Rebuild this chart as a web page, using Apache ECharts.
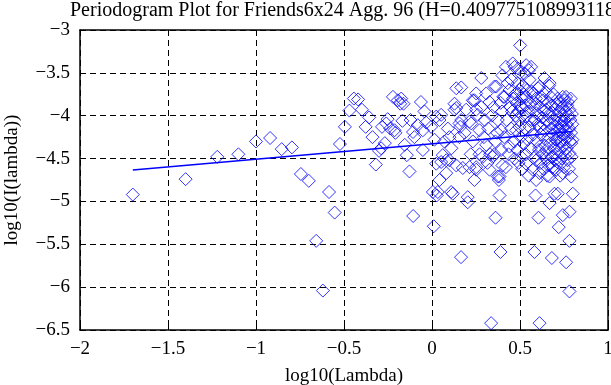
<!DOCTYPE html>
<html>
<head>
<meta charset="utf-8">
<script src="https://cdn.jsdelivr.net/npm/echarts@6/dist/echarts.min.js"></script>
<style>
html,body{margin:0;padding:0;background:#fff;}
#chart{width:611px;height:385px;}
</style>
</head>
<body>
<div id="chart"></div>
<script>
var chartTitle = 'Periodogram Plot for Friends6x24 Agg. 96 (H=0.409775108993118)';
var xAxisTitle = 'log10(Lambda)';
var yAxisTitle = 'log10(I(lambda))';
var xTicks = [-2, -1.5, -1, -0.5, 0, 0.5, 1];
var yTicks = [-6.5, -6, -5.5, -5, -4.5, -4, -3.5, -3];

// periodogram points [log10(lambda), log10(I(lambda))]
var lowFreqPoints = [
  [-1.70,-4.92],[-1.40,-4.74],[-1.22,-4.48],[-1.10,-4.45],[-1.00,-4.30],[-0.92,-4.26],
  [-0.854,-4.39],[-0.796,-4.37],[-0.745,-4.68],[-0.70,-4.76],[-0.658,-5.46],[-0.62,-6.04],
  [-0.585,-4.89],[-0.553,-5.13],[-0.523,-4.33],[-0.495,-4.13],[-0.469,-3.94],[-0.444,-3.80],
  [-0.42,-3.81],[-0.398,-3.93],[-0.377,-4.13],[-0.357,-4.02],[-0.338,-4.25],[-0.319,-4.57],
  [-0.301,-4.41]
];
var midFreqPoints = [
  [-0.289,-4.38],[-0.284,-4.13],[-0.268,-4.32],[-0.26,-4.09],[-0.252,-4.04],[-0.237,-4.15],
  [-0.222,-3.78],[-0.213,-4.17],[-0.208,-4.20],[-0.194,-3.82],[-0.18,-3.86],[-0.175,-3.80],
  [-0.168,-4.06],[-0.162,-3.86],[-0.155,-4.34],[-0.143,-4.46],[-0.128,-4.65],[-0.122,-4.05],
  [-0.108,-4.19],[-0.107,-5.17],[-0.10,-4.25],[-0.081,-4.11],[-0.063,-3.84],[-0.052,-4.17],
  [-0.052,-4.40],[-0.043,-3.95],[-0.033,-4.08],[-0.005,-4.13],[0.005,-4.89],[0.010,-5.29],
  [0.014,-4.28],[0.024,-4.01],[0.024,-4.56],[0.027,-4.93],[0.033,-4.89],[0.043,-4.05],
  [0.043,-4.75],[0.052,-3.99],[0.052,-4.54],[0.061,-4.46],[0.07,-4.30],[0.081,-4.67],
  [0.081,-4.52],[0.09,-4.15],[0.099,-4.25],[0.099,-4.52],[0.109,-4.89],[0.11,-4.38],
  [0.118,-4.91],[0.128,-3.93],[0.128,-3.86],[0.138,-3.68],[0.138,-3.91],[0.138,-4.58],
  [0.156,-4.09],[0.156,-4.25],[0.16,-4.13],[0.166,-3.67],[0.166,-4.05],[0.165,-5.65],
  [0.175,-4.61],[0.185,-4.20],[0.194,-3.93],
  [0.203,-4.95],[0.203,-5.01],[0.213,-4.07],[0.213,-4.60],[0.22,-4.45],[0.223,-4.09],
  [0.232,-3.82],[0.232,-4.30],[0.241,-3.82],[0.241,-4.75],[0.251,-3.74],[0.251,-3.93],
  [0.251,-4.60],[0.251,-4.63],[0.26,-3.99],[0.27,-4.17],[0.27,-4.45],[0.28,-3.56],
  [0.28,-3.90],[0.289,-4.48],[0.295,-4.25],[0.30,-4.05],[0.308,-3.74],[0.308,-4.34],
  [0.315,-4.55],[0.32,-4.15],[0.327,-3.84],[0.327,-4.63],[0.33,-4.45],[0.336,-6.42],
  [0.34,-4.00],[0.345,-4.48],[0.35,-3.90],[0.355,-3.66],[0.355,-4.45],[0.36,-4.30],
  [0.361,-5.19],[0.365,-3.66],[0.37,-4.20],[0.374,-4.05],[0.374,-4.71],[0.38,-4.75],
  [0.384,-4.71],[0.384,-4.93],[0.389,-5.59],[0.39,-3.85],[0.393,-4.17],[0.393,-4.40],
  [0.398,-3.95],[0.40,-3.53],[0.40,-4.58]
];
var highFreqPoints = [
  [0.405,-3.78],[0.41,-4.25],[0.412,-3.78],[0.42,-3.43],[0.42,-4.60],[0.425,-4.05],
  [0.43,-3.62],[0.435,-4.45],[0.44,-3.70],[0.44,-4.36],[0.445,-3.90],[0.45,-3.58],
  [0.45,-4.15],[0.455,-3.95],[0.459,-3.39],[0.46,-3.80],[0.465,-4.30],[0.469,-3.43],
  [0.469,-4.50],[0.472,-3.75],[0.475,-4.00],[0.478,-3.74],[0.478,-4.17],[0.48,-3.85],
  [0.485,-4.40],[0.488,-3.62],[0.49,-3.45],[0.49,-3.95],[0.492,-4.55],[0.495,-4.05],
  [0.497,-3.70],[0.497,-4.13],[0.50,-3.50],[0.501,-3.18],[0.503,-3.88],[0.505,-4.25],
  [0.507,-3.90],[0.507,-4.48],[0.51,-3.80],[0.512,-4.62],[0.515,-4.00],[0.518,-3.65],
  [0.52,-4.33],[0.522,-3.75],[0.525,-3.51],[0.528,-4.15],[0.53,-3.88],[0.533,-4.45],
  [0.535,-3.41],[0.535,-3.78],[0.535,-4.01],[0.535,-4.56],[0.54,-3.70],[0.544,-4.28],
  [0.548,-3.95],[0.55,-3.47],[0.55,-4.70],[0.554,-3.58],[0.554,-4.13],[0.558,-3.85],
  [0.56,-4.38],[0.563,-3.43],[0.565,-4.05],[0.568,-3.72],[0.573,-3.74],[0.573,-4.63],
  [0.575,-4.22],[0.58,-3.90],[0.582,-4.05],[0.582,-5.59],[0.585,-4.48],[0.588,-4.93],
  [0.59,-3.80],[0.592,-3.86],[0.592,-3.97],[0.592,-4.52],[0.592,-4.75],[0.595,-4.30],
  [0.600,-4.10],[0.603,-3.68],[0.605,-5.19],[0.608,-4.40],[0.611,-3.66],[0.611,-4.13],
  [0.611,-4.36],[0.611,-4.67],[0.611,-6.42],[0.615,-3.90],[0.618,-4.55],[0.62,-4.22],
  [0.622,-3.78],[0.625,-4.02],[0.628,-4.45],[0.63,-3.82],[0.632,-4.62],[0.635,-4.10],
  [0.638,-3.95],[0.639,-3.56],[0.639,-4.17],[0.642,-4.35],[0.645,-3.72],[0.647,-4.50],
  [0.649,-3.93],[0.649,-4.40],[0.652,-4.05],[0.655,-4.70],[0.658,-3.85],[0.66,-4.25],
  [0.662,-4.58],[0.665,-3.65],[0.668,-3.62],[0.668,-4.09],[0.668,-4.56],[0.668,-4.71],
  [0.668,-5.02],[0.67,-3.98],[0.672,-4.32],[0.675,-3.78],[0.678,-4.48],[0.68,-4.15],
  [0.681,-5.66],[0.683,-3.88],[0.685,-4.60],[0.686,-3.97],[0.686,-4.48],[0.688,-4.22],
  [0.69,-3.75],[0.692,-4.38],[0.695,-4.05],[0.696,-4.91],[0.698,-4.52],[0.70,-3.92],
  [0.702,-4.28],[0.704,-4.12],[0.706,-3.86],[0.706,-4.28],[0.706,-4.63],[0.708,-4.45],
  [0.71,-4.00],[0.712,-4.18],[0.714,-3.80],[0.715,-4.91],[0.716,-4.35],[0.718,-4.55],
  [0.72,-4.08],[0.72,-5.30],[0.722,-4.25],[0.724,-3.95],[0.724,-4.17],[0.726,-4.40],
  [0.728,-4.70],[0.73,-3.85],[0.732,-4.12],[0.734,-4.30],[0.736,-4.05],[0.738,-4.50],
  [0.74,-3.90],[0.742,-4.22],[0.743,-3.78],[0.743,-4.13],[0.743,-4.67],[0.743,-5.16],
  [0.745,-4.35],[0.748,-4.00],[0.75,-4.60],[0.752,-3.82],[0.753,-4.05],[0.755,-4.28],
  [0.758,-4.45],[0.76,-3.95],[0.762,-3.78],[0.762,-4.17],[0.762,-5.71],[0.764,-4.38],
  [0.766,-4.10],[0.768,-3.88],[0.77,-4.52],[0.772,-3.84],[0.772,-4.25],[0.775,-4.00],
  [0.778,-4.62],[0.78,-4.15],[0.781,-3.93],[0.781,-4.44],[0.781,-5.12],[0.781,-5.46],
  [0.781,-6.05],[0.784,-4.30],[0.786,-4.05],[0.788,-3.80],[0.79,-4.20],[0.791,-4.32],
  [0.791,-4.71],[0.793,-4.48],[0.795,-3.98],[0.797,-4.10],[0.798,-4.28],[0.80,-4.91]
];
// least-squares fit line end points
var fitLine = [[-1.70,-4.634],[0.798,-4.183]];

var FONT = '"Liberation Serif","Times New Roman",serif';
var BLUE = '#0000ff';
function fmt(v){ return (v < 0 ? '\u2212' : '') + String(Math.abs(v)); }

var chart = echarts.init(document.getElementById('chart'), null, {renderer:'canvas'});
var frameLine = {onZero:false, lineStyle:{color:'#000', width:1.5}};
var innerTick = {inside:true, length:6, lineStyle:{color:'#000', width:1}};
var dash = {color:'#000', width:1, type:[6,4]};

chart.setOption({
  animation:false,
  backgroundColor:'#fff',
  title:{
    text: chartTitle, left:70, top:1, padding:0,
    textStyle:{fontFamily:FONT, fontSize:20, fontWeight:'normal', color:'#000'}
  },
  grid:{left:80, right:3, top:30, bottom:55, outerBoundsMode:'none', containLabel:false},
  xAxis:[{
    type:'value', min:xTicks[0], max:xTicks[xTicks.length-1], interval:0.5, position:'bottom',
    axisLine:frameLine, axisTick:innerTick,
    axisLabel:{color:'#000', fontFamily:FONT, fontSize:19, margin:10, formatter:fmt},
    splitLine:{show:true, lineStyle:dash},
    name:xAxisTitle, nameLocation:'middle', nameGap:37,
    nameTextStyle:{color:'#000', fontFamily:FONT, fontSize:19}
  },{
    type:'value', min:xTicks[0], max:xTicks[xTicks.length-1], interval:0.5, position:'top',
    axisLine:frameLine, axisTick:innerTick, axisLabel:{show:false}, splitLine:{show:false}
  }],
  yAxis:[{
    type:'value', min:yTicks[0], max:yTicks[yTicks.length-1], interval:0.5, position:'left',
    axisLine:frameLine, axisTick:innerTick,
    axisLabel:{color:'#000', fontFamily:FONT, fontSize:19, margin:10, formatter:fmt},
    splitLine:{show:true, lineStyle:dash},
    name:yAxisTitle, nameLocation:'middle', nameGap:58, nameRotate:90,
    nameTextStyle:{color:'#000', fontFamily:FONT, fontSize:19}
  },{
    type:'value', min:yTicks[0], max:yTicks[yTicks.length-1], interval:0.5, position:'right',
    axisLine:frameLine, axisTick:innerTick, axisLabel:{show:false}, splitLine:{show:false}
  }],
  series:[{
    type:'scatter', symbol:'diamond', symbolSize:13,
    data: lowFreqPoints.concat(midFreqPoints, highFreqPoints),
    itemStyle:{color:'rgba(0,0,0,0)', borderColor:BLUE, borderWidth:1},
    emphasis:{disabled:true}, silent:true, z:2
  },{
    type:'line', data:fitLine, showSymbol:false, symbol:'none',
    lineStyle:{color:BLUE, width:1.5}, silent:true, z:3
  }]
});
</script>
</body>
</html>
